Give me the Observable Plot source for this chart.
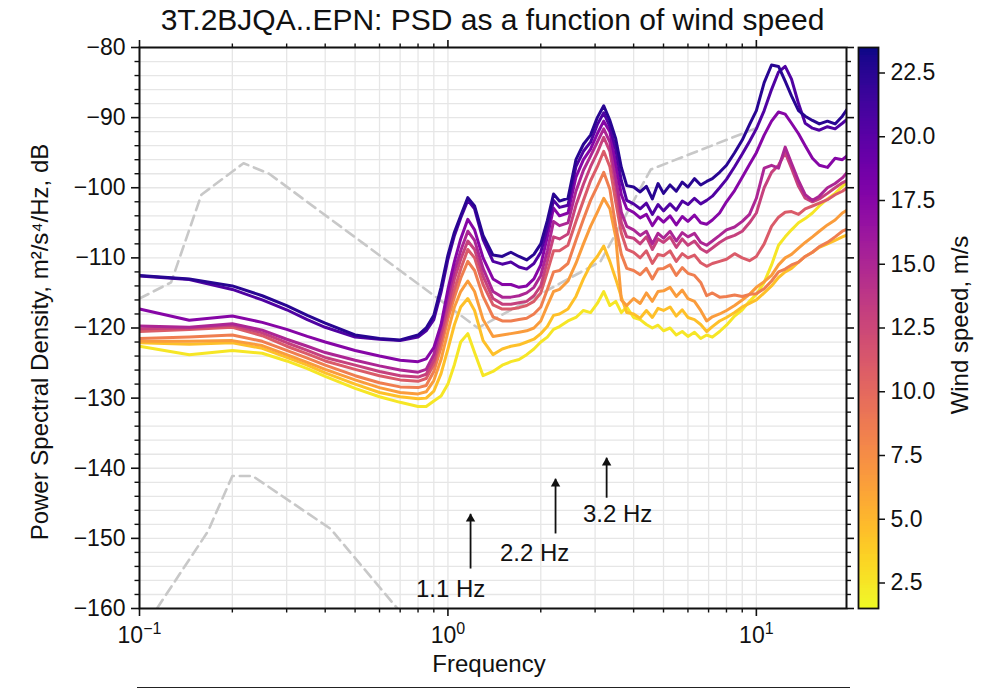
<!DOCTYPE html>
<html>
<head>
<meta charset="utf-8">
<script src="https://cdn.jsdelivr.net/npm/d3@7"></script>
<script src="https://cdn.jsdelivr.net/npm/@observablehq/plot@0.6"></script>
<style>
  body { margin: 0; background: #fff; }
  #wrap { position: relative; width: 986px; height: 693px; font-family: "Liberation Sans", Arial, Helvetica, sans-serif; color: #111; }
  #wrap svg { position: absolute; top: 0; }
  #title { position: absolute; left: 139px; width: 707px; top: 5px; text-align: center; font-size: 30px; line-height: 30px; white-space: nowrap; z-index: 2; }
  #base { position: absolute; left: 137px; top: 687px; width: 713px; border-top: 1.5px solid #222; }
</style>
</head>
<body>
<div id="wrap">
  <div id="title">3T.2BJQA..EPN: PSD as a function of wind speed</div>
  <div id="base"></div>
</div>
<script>
// ---------- data ----------
const freqs = [0.1, 0.145, 0.2, 0.25, 0.3, 0.35, 0.4, 0.5, 0.6, 0.7, 0.8, 0.85, 0.9,
  0.95, 1.0, 1.05, 1.1, 1.16, 1.22, 1.3,
  1.4, 1.5, 1.6, 1.7, 1.8, 1.9, 2.0, 2.1,
  2.2, 2.3, 2.45, 2.6, 2.75, 2.9, 3.05, 3.2,
  3.35, 3.5, 3.65, 3.8, 4.0, 4.2, 4.4, 4.6, 4.8,
  5.0, 5.25, 5.5, 5.75, 6.0, 6.3, 6.6, 6.9, 7.2, 7.6,
  8.0, 8.5, 9.0, 9.5, 10, 10.6, 11.2, 11.8, 12.4, 13,
  13.7, 14.4, 15.2, 16, 17, 18, 19, 20];

const windSpeeds = [2.5, 4.5, 6.5, 8.5, 11, 13, 15, 17.5, 20.5, 22.5];

const psdW2_5 = [-122.6, -123.8, -123.2, -123.6, -124.7, -125.8, -126.9, -128.6, -129.8, -130.6, -131.2, -131.2, -130.4,
  -129.7, -128.0, -125.2, -122.0, -120.8, -123.5, -126.8,
  -126.2, -125.3, -124.8, -124.5, -123.8, -123.0, -122.0, -121.3,
  -120.2, -119.8, -119.0, -118.5, -117.5, -117.8, -116.5, -114.8,
  -116.8, -116.2, -117.8, -117.0, -118.5, -118.8, -119.5, -120.0, -119.6,
  -120.4, -120.0, -121.0, -120.5, -121.2, -120.6, -121.5, -121.0, -121.3, -120.5,
  -119.6, -118.3, -117.4, -116.2, -115.2, -113.5, -111.0, -108.2, -107.0, -106.0,
  -105.0, -104.4, -103.6, -102.6, -101.6, -100.8, -99.8, -99.0];

const psdW4_5 = [-122.1, -122.3, -122.1, -122.9, -124.2, -125.3, -126.4, -128.0, -129.2, -129.8, -130.1, -130.0, -129.0,
  -126.5, -123.0, -119.5, -117.0, -115.8, -117.5, -121.8,
  -123.8, -123.0, -122.6, -122.4, -122.0, -121.6, -120.8, -119.8,
  -118.2, -118.0, -117.3, -115.5, -113.0, -111.0, -109.8, -108.3,
  -110.5, -113.0, -115.6, -117.8, -118.0, -118.6, -117.5, -118.5, -117.2,
  -117.5, -117.0, -118.3, -117.4, -118.5, -118.8, -119.5, -120.5, -119.8, -119.0,
  -118.5, -117.8, -117.0, -116.5, -116.0, -115.0, -114.0, -112.8, -112.0, -111.5,
  -110.6, -109.8, -109.2, -108.5, -108.0, -107.5, -107.0, -106.6];

const psdW6_5 = [-121.9, -121.9, -121.8, -122.5, -123.8, -124.9, -125.9, -127.4, -128.5, -129.2, -129.4, -129.1, -127.5,
  -124.5, -120.5, -117.0, -114.8, -113.3, -114.8, -118.8,
  -121.2, -121.0, -120.8, -120.6, -120.4, -120.0, -119.0, -116.8,
  -114.8, -114.5, -113.3, -110.8, -108.0, -105.5, -103.5, -101.5,
  -103.0, -107.0, -116.0, -116.8, -115.8, -116.5, -115.0, -116.2, -114.8,
  -114.7, -114.2, -115.5, -114.6, -115.8, -116.2, -117.5, -119.0, -118.4, -118.0,
  -117.5, -116.8, -116.0, -115.2, -114.2, -113.4, -112.5, -111.0, -110.0, -109.5,
  -108.6, -107.8, -107.0, -106.2, -105.3, -104.6, -103.6, -103.0];

const psdW8_5 = [-121.5, -121.3, -121.0, -121.9, -123.2, -124.3, -125.3, -126.8, -127.8, -128.4, -128.5, -128.2, -126.2,
  -122.8, -118.7, -115.6, -112.9, -110.5, -111.8, -115.5,
  -118.4, -119.0, -119.0, -118.8, -118.6, -118.0, -117.0, -114.5,
  -112.0, -111.8, -110.8, -107.5, -104.5, -101.8, -99.8, -97.8,
  -100.2, -105.5, -109.5, -111.5, -111.8, -112.4, -111.5, -113.0, -111.6,
  -111.5, -111.0, -112.5, -111.4, -112.2, -112.5, -113.5, -115.4, -115.0, -115.6,
  -115.5, -115.3, -115.5, -115.2, -115.1, -114.4, -113.3, -112.0, -111.6, -111.0,
  -110.6, -109.8, -109.2, -108.4, -107.8, -107.0, -106.2, -105.8];

const psdW11 = [-120.5, -120.2, -119.9, -121.1, -122.6, -123.7, -124.7, -125.9, -126.8, -127.4, -127.6, -127.2, -125.2,
  -121.8, -117.8, -114.5, -111.6, -108.8, -110.0, -113.8,
  -116.7, -117.3, -117.3, -117.1, -116.8, -116.2, -115.0, -112.0,
  -109.0, -109.0, -108.2, -104.8, -101.8, -99.0, -97.0, -94.8,
  -97.0, -102.0, -106.5, -108.8, -109.2, -110.0, -109.0, -110.8, -109.5,
  -109.7, -109.0, -110.5, -109.4, -110.0, -109.6, -110.7, -111.2, -110.8, -110.5,
  -110.2, -109.4, -110.0, -110.4, -109.8, -108.0, -105.5, -104.2, -103.5, -103.4,
  -103.8, -103.0, -102.6, -102.2, -101.7, -101.0, -100.5, -99.8];

const psdW13 = [-120.1, -120.0, -119.6, -120.7, -122.1, -123.2, -124.2, -125.3, -126.2, -126.8, -127.0, -126.6, -124.6,
  -120.8, -116.8, -113.0, -110.2, -107.6, -108.8, -112.6,
  -115.8, -116.6, -116.6, -116.4, -116.2, -115.4, -114.0, -110.5,
  -107.0, -107.3, -106.6, -102.5, -99.5, -97.0, -95.0, -92.8,
  -94.8, -99.8, -105.0, -107.0, -107.2, -108.0, -107.0, -108.8, -107.3,
  -107.8, -107.0, -108.5, -107.3, -108.2, -107.6, -108.7, -109.2, -108.6, -107.8,
  -107.2, -106.8, -106.2, -105.0, -103.6, -100.0, -97.8, -96.8, -95.0, -97.2,
  -99.8, -101.5, -102.0, -101.6, -100.8, -100.0, -99.3, -98.8];

const psdW15 = [-119.7, -119.9, -119.4, -120.3, -121.6, -122.6, -123.5, -124.6, -125.4, -126.0, -126.3, -125.9, -123.8,
  -119.8, -115.5, -111.8, -109.0, -106.2, -107.5, -111.5,
  -114.8, -115.6, -115.6, -115.4, -115.0, -114.2, -112.5, -109.0,
  -104.8, -105.4, -105.0, -100.5, -97.5, -95.5, -93.5, -91.6,
  -93.5, -98.5, -103.5, -105.5, -106.0, -106.8, -106.2, -108.0, -106.5,
  -107.2, -106.2, -107.6, -106.4, -107.0, -106.5, -107.8, -108.2, -107.6, -106.8,
  -106.0, -105.6, -104.8, -103.8, -101.5, -97.2, -96.8, -97.2, -94.2, -96.5,
  -99.0, -101.0, -101.8, -101.2, -100.0, -99.4, -98.6, -97.5];

const psdW17_5 = [-117.3, -118.9, -118.3, -119.2, -120.2, -121.2, -122.0, -123.2, -124.0, -124.6, -124.8, -124.4, -122.8,
  -119.5, -114.5, -110.5, -107.3, -104.5, -106.0, -110.0,
  -113.0, -113.8, -113.8, -114.2, -114.0, -113.0, -111.0, -107.0,
  -102.9, -104.0, -103.6, -98.5, -96.0, -94.5, -92.3, -90.5,
  -92.0, -96.5, -101.0, -103.0, -103.5, -104.3, -103.8, -105.4, -104.2,
  -104.9, -104.0, -105.3, -104.1, -104.8, -103.9, -105.0, -105.2, -104.6, -103.6,
  -102.0, -100.4, -98.5, -96.7, -95.0, -92.5, -90.5, -89.2, -89.5, -90.8,
  -92.3, -94.0, -95.8, -96.8, -97.1, -95.8, -96.0, -95.2];

const psdW20_5 = [-112.6, -113.1, -114.5, -116.0, -117.4, -118.8, -119.9, -121.3, -121.6, -121.8, -121.3, -120.4, -118.8,
  -114.9, -110.2, -106.8, -104.3, -101.8, -103.0, -107.4,
  -110.5, -110.9, -110.6, -111.3, -111.6, -110.8, -109.2, -105.8,
  -101.8, -102.8, -102.5, -97.0, -94.8, -93.5, -91.0, -89.3,
  -91.3, -94.5, -99.0, -101.8, -102.3, -103.0, -102.2, -103.8, -102.4,
  -103.3, -102.3, -103.2, -101.9, -102.4, -101.5, -102.3, -101.8, -101.2, -100.0,
  -98.8, -97.0, -95.2, -93.4, -91.6, -89.0, -86.0, -83.5, -82.7, -84.5,
  -88.0, -90.8, -91.5, -91.8, -91.3, -91.6, -90.8, -90.0];

const psdW22_5 = [-112.5, -113.0, -114.0, -115.4, -116.8, -118.2, -119.3, -121.0, -121.5, -121.7, -121.0, -120.0, -118.2,
  -114.2, -109.6, -106.3, -104.0, -101.4, -102.6, -106.8,
  -109.6, -109.8, -109.2, -109.8, -110.3, -109.5, -108.0, -104.7,
  -100.9, -101.9, -101.5, -96.0, -93.8, -92.5, -90.0, -88.3,
  -90.4, -93.0, -97.1, -99.7, -99.9, -100.6, -99.8, -101.6, -99.4,
  -100.8, -99.6, -100.5, -99.2, -99.9, -98.7, -99.6, -99.1, -98.7, -97.8,
  -96.8, -95.0, -93.2, -91.0, -89.0, -85.0, -82.5, -82.7, -84.8, -86.9,
  -89.0, -89.8, -90.4, -90.9, -90.5, -90.9, -89.8, -88.4];

// Reference noise models (grey dashed)
const nhnmFreq = [0.1, 0.1266, 0.1587, 0.2174, 0.2632, 1.25, 3.125, 4.545, 10];
const nhnmDb   = [-115.8, -113.5, -101.0, -96.5, -98.0, -120.0, -110.5, -97.4, -91.5];
const nlnmFreq = [0.1, 0.1667, 0.2, 0.2326, 0.4167, 0.8065, 1.25];
const nlnmDb   = [-163.75, -149.0, -141.1, -141.1, -148.65, -163.7, -169.2];

// Annotations
const annLabels = ["1.1 Hz", "2.2 Hz", "3.2 Hz"];
const annFreq   = [1.184, 2.233, 3.27];
const annTail   = [-154.3, -149.3, -144.2];
const annHead   = [-146.5, -141.5, -138.5];
const annTextF  = [1.02, 1.91, 3.55];
const annTextDb = [-157.2, -152.2, -146.6];

// Axis ticks
const xMajor = [0.1, 1, 10];
const xMajorLabels = ["10^−1", "10^0", "10^1"];
const xMinor = [0.2, 0.3, 0.4, 0.5, 0.6, 0.7, 0.8, 0.9, 2, 3, 4, 5, 6, 7, 8, 9];
const yMajor = [-160, -150, -140, -130, -120, -110, -100, -90, -80];
const yMinor = d3.range(-160, -79, 2).filter(v => v % 10 !== 0);
const cbTicks = [2.5, 5, 7.5, 10, 12.5, 15, 17.5, 20, 22.5];

// ---------- build ----------
const seriesValues = [psdW2_5, psdW4_5, psdW6_5, psdW8_5, psdW11, psdW13, psdW15, psdW17_5, psdW20_5, psdW22_5];
const rows = windSpeeds.flatMap((w, k) => freqs.map((f, i) => ({f, db: seriesValues[k][i], w})));
const nhnm = nhnmFreq.map((f, i) => ({f, db: nhnmDb[i]}));
const nlnm = nlnmFreq.map((f, i) => ({f, db: nlnmDb[i]}));
const ann = annLabels.map((label, i) => ({label, f: annFreq[i], tail: annTail[i], head: annHead[i], tf: annTextF[i], ty: annTextDb[i]}));

const colorScale = {type: "linear", domain: [1.5, 23.5], scheme: "plasma", reverse: true};
const font = "'Liberation Sans', Arial, Helvetica, sans-serif";
const minus = d => (d < 0 ? "−" : "") + Math.abs(d);
const gridColor = "#e6e6e6";
const ink = "#111";

const main = Plot.plot({
  width: 986, height: 693,
  marginLeft: 139, marginRight: 140, marginTop: 47, marginBottom: 85,
  x: {type: "log", domain: [0.1, 19.6]},
  y: {domain: [-160, -80]},
  color: colorScale,
  style: {fontFamily: font, fontSize: "23px", background: "white", color: ink, overflow: "visible"},
  marks: [
    Plot.ruleX(xMajor.concat(xMinor), {stroke: gridColor, strokeWidth: 1.3}),
    Plot.ruleY(d3.range(-160, -79, 2), {stroke: gridColor, strokeWidth: 1.3}),
    Plot.line(nhnm, {x: "f", y: "db", stroke: "#c8c8c8", strokeWidth: 2.6, strokeDasharray: "10,6", clip: true}),
    Plot.line(nlnm, {x: "f", y: "db", stroke: "#c8c8c8", strokeWidth: 2.6, strokeDasharray: "10,6", clip: true}),
    Plot.line(rows, {x: "f", y: "db", z: "w", stroke: "w", strokeWidth: 3, clip: true, strokeLinejoin: "round"}),
    Plot.link(ann, {x1: "f", x2: "f", y1: "tail", y2: "head", stroke: ink, strokeWidth: 1.8}),
    Plot.dot(ann, {x: "f", y: "head", symbol: "triangle", r: 3.5, fill: ink, stroke: "none", dy: 5}),
    Plot.text(ann, {x: "tf", y: "ty", text: "label", fontSize: 24, fill: ink}),
    Plot.frame({stroke: ink, strokeWidth: 2}),
    Plot.axisX(xMajor, {anchor: "bottom", tickSize: 8, tickPadding: 10, strokeWidth: 1.6, fontSize: 23, label: null,
      tickFormat: d => xMajorLabels[xMajor.indexOf(d)]}),
    Plot.axisX(xMinor, {anchor: "bottom", tickSize: 4.5, strokeWidth: 1.4, fill: "none", label: null}),
    Plot.axisX(xMajor, {anchor: "top", tickSize: 8, strokeWidth: 1.6, fill: "none", label: null}),
    Plot.axisX(xMinor, {anchor: "top", tickSize: 4.5, strokeWidth: 1.4, fill: "none", label: null}),
    Plot.axisY(yMajor, {anchor: "left", tickSize: 8, tickPadding: 6, strokeWidth: 1.6, fontSize: 23, label: null, tickFormat: minus}),
    Plot.axisY(yMinor, {anchor: "left", tickSize: 4.5, strokeWidth: 1.4, fill: "none", label: null}),
    Plot.axisY(yMajor, {anchor: "right", tickSize: 7, strokeWidth: 1.6, fill: "none", label: null}),
    Plot.axisY(yMinor, {anchor: "right", tickSize: 4, strokeWidth: 1.4, fill: "none", label: null}),
    Plot.text(["Frequency"], {frameAnchor: "bottom", textAnchor: "middle", dy: 63, dx: -4, fontSize: 24, fill: ink}),
    Plot.text(["Power Spectral Density, m²/s⁴/Hz, dB"], {frameAnchor: "left", textAnchor: "middle", rotate: -90, dx: -99, dy: 14, fontSize: 24, fill: ink})
  ]
});

// superscript exponents on the frequency tick labels
main.querySelectorAll("text").forEach(t => {
  const m = /^10\^(.+)$/.exec(t.textContent);
  if (m) {
    const ns = "http://www.w3.org/2000/svg";
    while (t.firstChild) t.removeChild(t.firstChild);
    const b = document.createElementNS(ns, "tspan");
    b.textContent = "10";
    const s = document.createElementNS(ns, "tspan");
    s.textContent = m[1];
    s.setAttribute("dy", "-9");
    s.setAttribute("font-size", "16");
    t.append(b, s);
  }
});
main.style.left = "0px";

const cbSamples = d3.range(1.5, 23.5, 0.1);
const cb = Plot.plot({
  width: 140, height: 693,
  marginLeft: 12, marginRight: 108, marginTop: 47, marginBottom: 85,
  x: {domain: [0, 1], axis: null},
  y: {domain: [1.5, 23.5]},
  color: colorScale,
  style: {fontFamily: font, fontSize: "23px", background: "transparent", color: ink, overflow: "visible"},
  marks: [
    Plot.rect(cbSamples, {x1: () => 0, x2: () => 1, y1: d => d, y2: d => Math.min(d + 0.15, 23.5), fill: d => d + 0.05, shapeRendering: "crispEdges"}),
    Plot.frame({stroke: ink, strokeWidth: 1.8}),
    Plot.axisY(cbTicks, {anchor: "right", tickSize: 6, tickPadding: 6, strokeWidth: 1.5, fontSize: 23, label: null, tickFormat: d => d.toFixed(1)}),
    Plot.text(["Wind speed, m/s"], {frameAnchor: "right", textAnchor: "middle", rotate: -90, dx: 82, dy: -3, fontSize: 24, fill: ink})
  ]
});
cb.style.left = "846px";

const wrap = document.getElementById("wrap");
wrap.insertBefore(main, wrap.firstChild);
wrap.appendChild(cb);
</script>
</body>
</html>
